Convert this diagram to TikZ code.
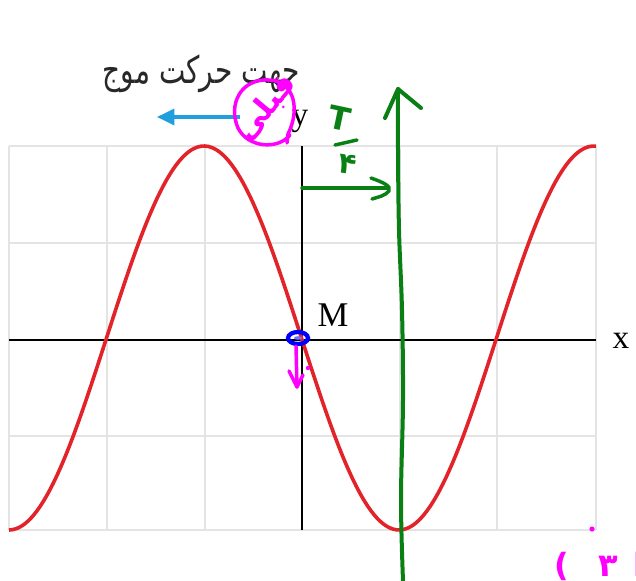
\documentclass[tikz,border=0pt]{standalone}
\usepackage{graphicx}
\usepackage{fontspec}
\setmainfont{Liberation Serif}
\newfontfamily\arabicfont[Script=Arabic]{DejaVu Sans}
\newfontfamily\djv{DejaVu Sans}
\TeXXeTstate=1
\usetikzlibrary{arrows.meta}
\definecolor{gridc}{RGB}{228,228,228}
\definecolor{wave}{RGB}{226,36,42}
\definecolor{bluea}{RGB}{32,158,222}
\definecolor{mag}{RGB}{255,0,255}
\definecolor{grn}{RGB}{10,128,20}
\definecolor{titlec}{RGB}{40,40,40}
\tikzset{
  gridline/.style={draw=gridc,line width=1.6pt},
  axisline/.style={draw=black,line width=1.5pt},
  wavecurve/.style={draw=wave,line width=2.7pt},
  pen/.style={line width=2.6pt,line cap=round,line join=round},
  lbl/.style={inner sep=0pt,font=\fontsize{25}{25}\selectfont}
}
\begin{document}
\begin{tikzpicture}[x=0.75pt,y=-0.75pt]
\useasboundingbox (0,0) rectangle (636,581);
\fill[white] (0,0) rectangle (636,581);
% grid
\foreach \gx in {9,107,205,400,497,596} \draw[gridline] (\gx,146) -- (\gx,530);
\foreach \gy in {146,243,436,530} \draw[gridline] (9,\gy) -- (596,\gy);
% axes
\draw[axisline] (9,340) -- (596,340);
\draw[axisline] (302,146) -- (302,530);
\node[lbl] (xl) at (621,341) {x};
\node[lbl] (yl) at (300,121) {y};
% wave
\draw[wavecurve] plot[domain=9:596,samples=160,smooth] (\x,{338+192*cos(0.923077*(\x-9))});
% M
\node[lbl,font=\fontsize{26}{26}\selectfont] (M) at (333,315) {M};
\coordinate (Mp) at (298,338);
% title
\node[inner sep=0pt,text=titlec] (title) at (201,74) {\scalebox{1}[1.35]{\arabicfont\fontsize{21}{21}\selectfont\beginR جهت حرکت موج\endR}};
% blue arrow
\coordinate (ba) at (240,117);
\coordinate (bb) at (157,117);
\draw[bluea,line width=2.4pt,-{Triangle[length=13pt,width=12pt]}] (ba) -- (bb);
% magenta circle with text
\node[inner sep=0pt,text=mag,rotate=50] (qabli) at (266,108) {\arabicfont\bfseries\fontsize{23}{23}\selectfont\beginR قبلی\endR};
\draw[mag,pen] (288,134) .. controls (300,110) and (295,82) .. (270,80) .. controls (240,78) and (228,105) .. (238,128) .. controls (248,148) and (278,150) .. (290,135);
\draw[mag,pen] (288,134) -- (287,143);
% blue blob at M
\draw[blue,line width=3.2pt] (Mp) ellipse [x radius=10,y radius=6];
\fill[blue!55!white] (Mp) ellipse [x radius=4,y radius=1.8];
% pink arrow down
\coordinate (pa) at (296,346);
\coordinate (pb) at (297,387);
\draw[mag,pen] (pa) -- (pb);
\draw[mag,pen] (289,371) -- (pb) -- (303,375);
\fill[mag] (308,368) circle (2.2);
\fill[mag] (592,529) circle (2.6);
% option label
\node[inner sep=0pt,text=mag,anchor=west] (opt) at (554,566) {\bfseries\fontsize{24}{24}\selectfont{\djv (}\hspace{22pt}{\arabicfont ۳}\hspace{12pt}{\arabicfont ا}};
% green T/4
\node[inner sep=0pt,text=grn,rotate=-12] (Tt) at (340,118) {\djv\bfseries\fontsize{24}{24}\selectfont T};
\node[inner sep=0pt,text=grn,rotate=-8] (four) at (348,164) {\arabicfont\bfseries\fontsize{22}{22}\selectfont ۴};
\draw[grn,pen] (335,145) -- (357,140);
% green horizontal arrow
\coordinate (ga) at (302,188);
\coordinate (gb) at (388,188);
\draw[grn,pen] (ga) -- (gb);
\draw[grn,pen] (371,178) .. controls (382,182) and (392,186) .. (389,191) .. controls (385,196) and (378,197) .. (372,199);
% green vertical arrow
\coordinate (gv0) at (403,581);
\coordinate (gv1) at (398,89);
\draw[grn,line width=3pt,line cap=round] plot[smooth,tension=0.6] coordinates {(gv0) (401,500) (403,400) (402,310) (399,230) (398,150) (gv1)};
\draw[grn,pen,line width=3pt] (385,118) -- (gv1) -- (421,108);
\end{tikzpicture}
\end{document}
